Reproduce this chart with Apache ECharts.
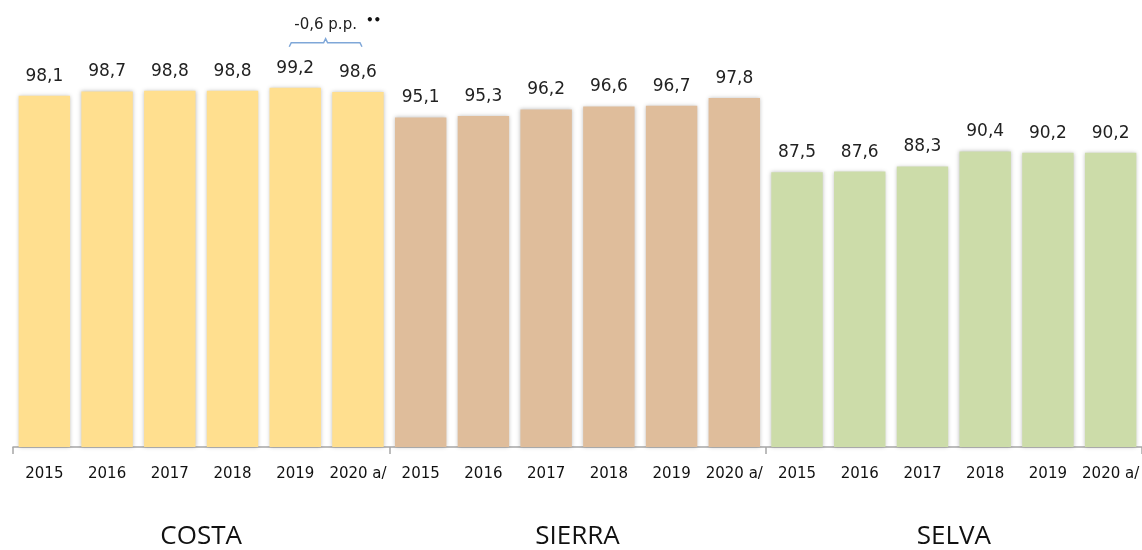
<!DOCTYPE html>
<html>
<head>
<meta charset="utf-8">
<script src="https://cdn.jsdelivr.net/npm/echarts@6/dist/echarts.min.js"></script>
<style>
	html, body { margin: 0; padding: 0; background: #fff; }
	#chart { width: 1142px; height: 550px; }
</style>
</head>
<body>
<div id="chart"></div>
<script>
/* 
	数据
 */
// 年份
var years = ['2015', '2016', '2017', '2018', '2019', '2020 a/'];
// 区域
var regions = ['COSTA', 'SIERRA', 'SELVA'];
// 各区域数值
var costaValues = [98.1, 98.7, 98.8, 98.8, 99.2, 98.6];
var sierraValues = [95.1, 95.3, 96.2, 96.6, 96.7, 97.8];
var selvaValues = [87.5, 87.6, 88.3, 90.4, 90.2, 90.2];
var regionColors = ['#FFDF8F', '#DFBD9B', '#CCDCA9'];
// 注释
var noteText = '-0,6 p.p.';
var noteMark = '••';

// 组装类目和数据
var categories = [];
var barData = [];
var groups = [costaValues, sierraValues, selvaValues];
for (var g = 0; g < groups.length; g++) {
	for (var i = 0; i < years.length; i++) {
		categories.push(regions[g] + '|' + years[i]);
		barData.push({
			value: groups[g][i],
			itemStyle: { color: regionColors[g] }
		});
	}
}

var myChart = echarts.init(document.getElementById('chart'));

var option = {
	animation: false,
	grid: {
		left: 13,
		width: 1140,
		top: 82,
		bottom: 101
	},
	xAxis: [
		{
			type: 'category',
			data: categories,
			axisLine: { lineStyle: { color: '#A6A6A6', width: 1.5 } },
			axisTick: {
				show: true,
				length: 7,
				lineStyle: { color: '#A6A6A6', width: 1.5 },
				interval: function (index) { return index % 6 === 0; }
			},
			axisLabel: {
				interval: 0,
				margin: 20,
				color: '#111',
				fontFamily: 'DejaVu Sans',
				fontSize: 15,
				formatter: function (v) { return v.split('|')[1]; }
			}
		},
		{
			type: 'category',
			data: regions,
			position: 'bottom',
			offset: 77,
			axisLine: { show: false },
			axisTick: { show: false },
			axisLabel: {
				margin: 0,
				color: '#111',
				fontFamily: 'Open Sans',
				fontSize: 26
			}
		}
	],
	yAxis: {
		type: 'value',
		min: 49.5,
		max: 100,
		show: false
	},
	series: [
		{
			type: 'bar',
			xAxisIndex: 0,
			data: barData,
			barCategoryGap: '18%',
			itemStyle: {
				shadowColor: 'rgba(0,0,0,0.25)',
				shadowBlur: 4
			},
			label: {
				show: true,
				position: 'top',
				distance: 11,
				color: '#222',
				fontFamily: 'DejaVu Sans',
				fontSize: 17,
				formatter: function (p) { return p.value.toFixed(1).replace('.', ','); }
			}
		}
	]
};
myChart.setOption(option);

/* 
	2019-2020 注释括号，由坐标换算位置
 */
var p19 = myChart.convertToPixel({ xAxisIndex: 0, yAxisIndex: 0 }, [4, costaValues[4]]);
var p20 = myChart.convertToPixel({ xAxisIndex: 0, yAxisIndex: 0 }, [5, costaValues[5]]);
var x1 = p19[0] - 6, x2 = p20[0] + 4;
var xm = (x1 + x2) / 2;
var yb = p19[1] - 45;
myChart.setOption({
	graphic: [
		{
			type: 'polyline',
			shape: {
				points: [[x1, yb + 4], [x1 + 2, yb], [xm - 2, yb], [xm, yb - 4], [xm + 2, yb], [x2 - 2, yb], [x2, yb + 4]]
			},
			style: { stroke: '#7FA7D8', lineWidth: 1.5, fill: null }
		},
		{
			type: 'text',
			x: xm,
			y: yb - 18,
			style: {
				text: noteText,
				fill: '#222',
				font: '15px "DejaVu Sans"',
				textAlign: 'center',
				textVerticalAlign: 'middle'
			}
		},
		{
			type: 'text',
			x: xm + 48,
			y: yb - 22,
			style: {
				text: noteMark,
				fill: '#111',
				font: 'bold 12px "DejaVu Sans"',
				textAlign: 'center',
				textVerticalAlign: 'middle'
			}
		}
	]
});
</script>
</body>
</html>
